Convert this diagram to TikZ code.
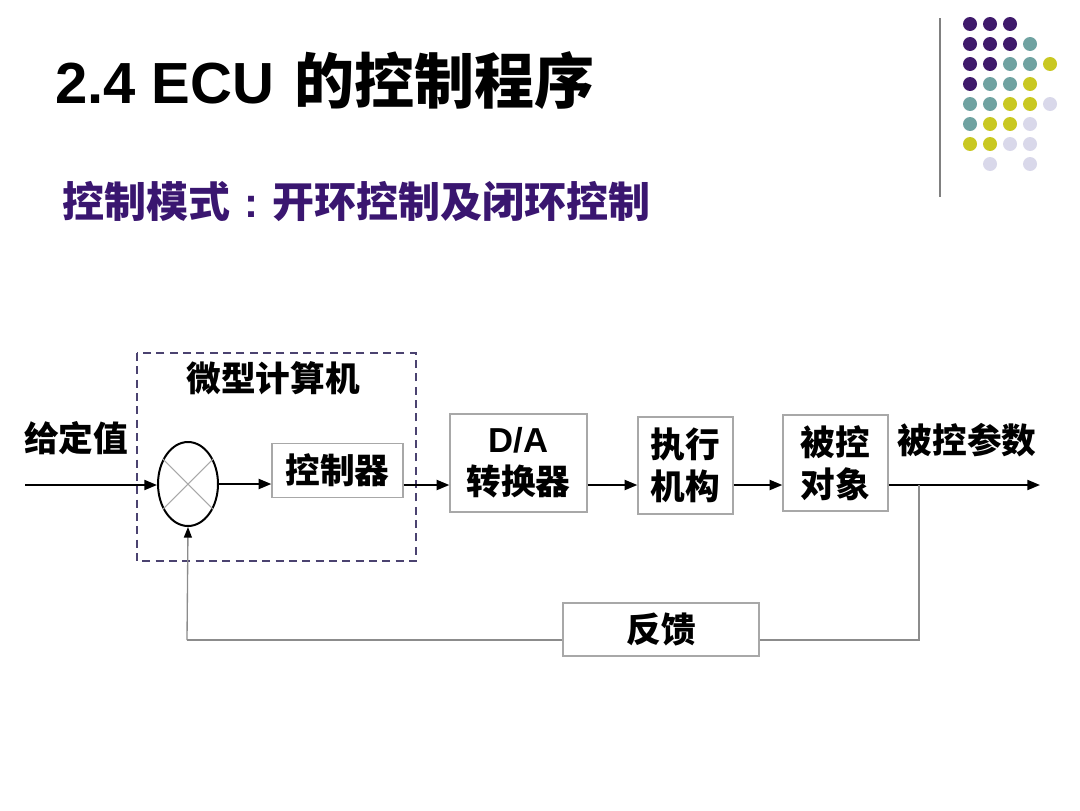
\documentclass[tikz,border=0pt]{standalone}
\usepackage{fontspec}
\setmainfont{Liberation Sans}
\newfontfamily\cjk{Noto Sans CJK SC}
\usetikzlibrary{arrows.meta,shapes.geometric}
\definecolor{dpurple}{HTML}{3A1670}
\definecolor{dotP}{HTML}{3F1A6B}
\definecolor{dotT}{HTML}{6FA2A1}
\definecolor{dotY}{HTML}{C9C822}
\definecolor{dotL}{HTML}{D9D8EA}
\definecolor{dashc}{HTML}{4B4270}
\definecolor{boxc}{HTML}{A8A8A8}
\definecolor{fbc}{HTML}{8C8C8C}
\tikzset{
  lbl/.style={font=\cjk\bfseries\fontsize{26pt}{31.5pt}\selectfont, inner sep=0pt, align=center},
  blk/.style={draw=boxc, line width=1pt, lbl},
  flow/.style={line width=1.5pt, -{Triangle[length=9.5pt,width=7.5pt]}},
  fb/.style={draw=fbc, line width=1pt},
  dot/.style={circle, minimum size=10.5pt, inner sep=0pt},
}
\begin{document}
\begin{tikzpicture}[x=0.75pt,y=-0.75pt]
\useasboundingbox (0,0) rectangle (1080,810);
% title
\node[anchor=base west, inner sep=0pt, font=\bfseries\fontsize{43.5pt}{50pt}\selectfont] (title) at (55,103) {2.4 ECU\hspace{15pt}{\cjk\fontsize{45pt}{50pt}\selectfont 的控制程序}};
\node[anchor=base west, inner sep=0pt, text=dpurple, font=\cjk\bfseries\fontsize{31.5pt}{36pt}\selectfont] (sub) at (62,217) {控制模式{\rmfamily\bfseries\makebox[1em]{:}}开环控制及闭环控制};
% decoration
\draw[draw=gray, line width=1.5pt] (940,18) -- (940,197);
\foreach \c [count=\i] in {P,P,P}{\node[dot, fill=dot\c] at (950+20*\i,24) {};}
\foreach \c [count=\i] in {P,P,P,T}{\node[dot, fill=dot\c] at (950+20*\i,44) {};}
\foreach \c [count=\i] in {P,P,T,T,Y}{\node[dot, fill=dot\c] at (950+20*\i,64) {};}
\foreach \c [count=\i] in {P,T,T,Y}{\node[dot, fill=dot\c] at (950+20*\i,84) {};}
\foreach \c [count=\i] in {T,T,Y,Y,L}{\node[dot, fill=dot\c] at (950+20*\i,104) {};}
\foreach \c [count=\i] in {T,Y,Y,L}{\node[dot, fill=dot\c] at (950+20*\i,124) {};}
\foreach \c [count=\i] in {Y,Y,L,L}{\node[dot, fill=dot\c] at (950+20*\i,144) {};}
\node[dot, fill=dotL] at (990,164) {};
\node[dot, fill=dotL] at (1030,164) {};
% microcomputer dashed box
\draw[draw=dashc, line width=1.5pt, dash pattern=on 6pt off 4pt] (137,353) rectangle (416,561);
\node[lbl] (mc) at (273,378) {微型计算机};
% summing junction
\node[ellipse, draw, line width=1.5pt, minimum width=45pt, minimum height=63pt, inner sep=0pt] (sum) at (188,484) {};
\draw[draw=boxc, line width=0.8pt] (sum.45) -- (sum.225) (sum.135) -- (sum.315);
% blocks
\node[blk, minimum width=98.25pt, minimum height=40.5pt] (ctrl) at (337.5,470.5) {控制器};
\node[blk, minimum width=102.75pt, minimum height=73.5pt] (da) at (518.5,463) {{\rmfamily\bfseries D/A}\\转换器};
\node[blk, minimum width=71.25pt, minimum height=72.75pt] (act) at (685.5,465.5) {执行\\机构};
\node[blk, minimum width=78.75pt, minimum height=72pt] (obj) at (835.5,463) {被控\\对象};
\node[blk, minimum width=147pt, minimum height=39.75pt] (fbk) at (661,629.5) {反馈};
% labels
\node[lbl] (gv) at (76,438) {给定值};
\node[lbl] (pv) at (967,440) {被控参数};
% coordinates
\coordinate (in) at (25,485);
\coordinate (out) at (1040,485);
\coordinate (br) at (919,485);
\coordinate (c1) at (919,640);
\coordinate (c2) at (187,640);
% flow
\draw[flow] (in) -- (sum.west |- in);
\draw[flow] (sum.east) -- (ctrl.west |- sum.east);
\draw[flow] (ctrl.east |- in) -- (da.west |- in);
\draw[flow] (da.east |- in) -- (act.west |- in);
\draw[flow] (act.east |- in) -- (obj.west |- in);
\draw[flow] (obj.east |- in) -- (out);
% feedback
\draw[fb] (br) -- (c1) -- (fbk.east |- c1);
\draw[fb] (fbk.west |- c2) -- (c2);
\draw[fb, -{Triangle[length=8pt,width=6pt,black]}] (c2) -- (sum.south);
\end{tikzpicture}
\end{document}
